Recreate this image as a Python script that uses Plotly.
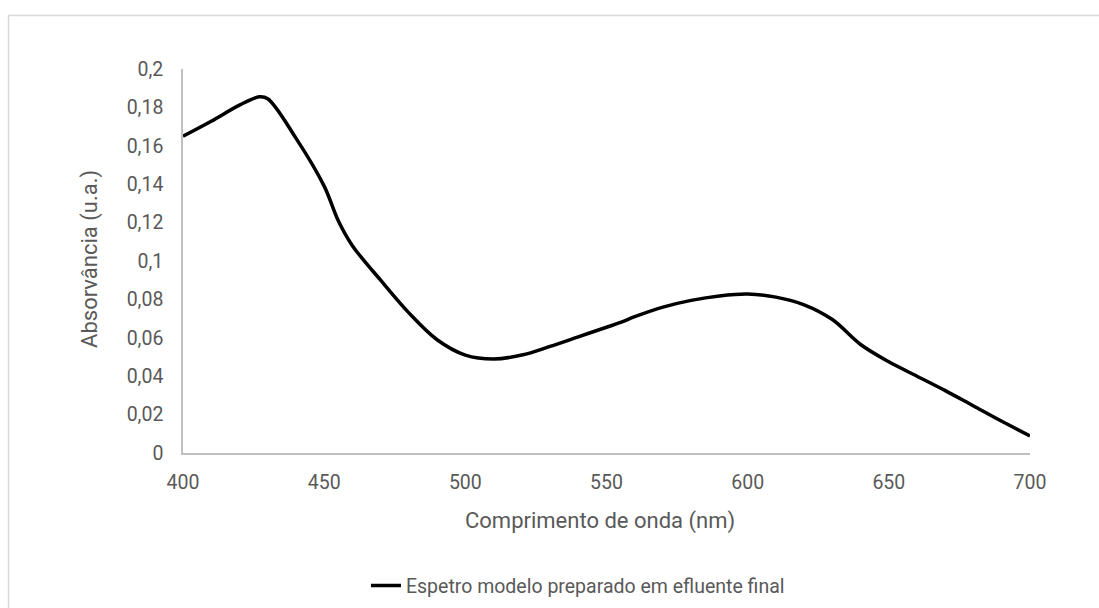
import plotly.graph_objects as go

# Absorption spectrum (wavelength in nm, absorbance in a.u.)
wavelength = [400, 410, 420, 427, 430, 440, 450, 455, 460, 470, 480, 490, 500,
              510, 520, 530, 540, 550, 555, 560, 570, 580, 590, 600, 610, 620,
              630, 640, 650, 660, 670, 680, 690, 700]
absorbance = [0.165, 0.1728, 0.1812, 0.1855, 0.1845, 0.164, 0.139, 0.121, 0.108,
              0.090, 0.073, 0.059, 0.051, 0.049, 0.051, 0.0555, 0.0605, 0.0655,
              0.0680, 0.0710, 0.0760, 0.0795, 0.0818, 0.0828, 0.0812, 0.0772,
              0.0695, 0.0565, 0.0475, 0.0400, 0.0325, 0.0245, 0.0165, 0.0089]

x_ticks = [400, 450, 500, 550, 600, 650, 700]
y_ticks = [0, 0.02, 0.04, 0.06, 0.08, 0.1, 0.12, 0.14, 0.16, 0.18, 0.2]
y_tick_text = [("%g" % v).replace(".", ",") for v in y_ticks]

series_name = "Espetro modelo preparado em efluente final"
x_title = "Comprimento de onda (nm)"
y_title = "Absorvância (u.a.)"

FONT = "Roboto"
GREY = "#595959"

fig = go.Figure()
fig.add_trace(go.Scatter(
    x=wavelength, y=absorbance, mode="lines", name=series_name,
    line=dict(color="#000000", width=3.5, shape="spline", smoothing=1.0),
    showlegend=True,
))

fig.update_layout(
    width=1099, height=608,
    margin=dict(l=183, r=69, t=69, b=155, autoexpand=False),
    paper_bgcolor="white", plot_bgcolor="white",
    font=dict(family=FONT, color=GREY, size=19),
    showlegend=True,
    legend=dict(orientation="h", x=0.216, xanchor="left", y=-0.346,
                yanchor="middle", itemwidth=30, bgcolor="rgba(0,0,0,0)",
                font=dict(family=FONT, size=19.5, color=GREY)),
    xaxis=dict(range=[400, 700], tickvals=x_ticks, showgrid=False,
               zeroline=False, showline=True, linecolor="#bfbfbf", linewidth=1.5,
               ticks="", ticklen=0, ticklabelstandoff=11, automargin=False,
               tickfont=dict(size=19.5, color=GREY)),
    yaxis=dict(range=[0, 0.2], tickvals=y_ticks, ticktext=y_tick_text,
               showgrid=False, zeroline=False, showline=True,
               linecolor="#bfbfbf", linewidth=1.5, ticks="", ticklen=0,
               ticklabelstandoff=14, automargin=False,
               tickfont=dict(size=19.5, color=GREY)),
    annotations=[
        dict(text=x_title, xref="paper", yref="paper", x=0.492, y=-0.178,
             xanchor="center", yanchor="middle", showarrow=False,
             font=dict(family=FONT, size=22, color=GREY)),
        dict(text=y_title, xref="paper", yref="paper", x=-0.110, y=0.505,
             xanchor="center", yanchor="middle", showarrow=False, textangle=-90,
             font=dict(family=FONT, size=22, color=GREY)),
    ],
    shapes=[
        dict(type="rect", xref="paper", yref="paper", x0=-0.206, y0=-0.6,
             x1=1.3, y1=1.139, line=dict(color="#d9d9d9", width=1.5),
             layer="below"),
    ],
)

fig.write_html("out.html")
